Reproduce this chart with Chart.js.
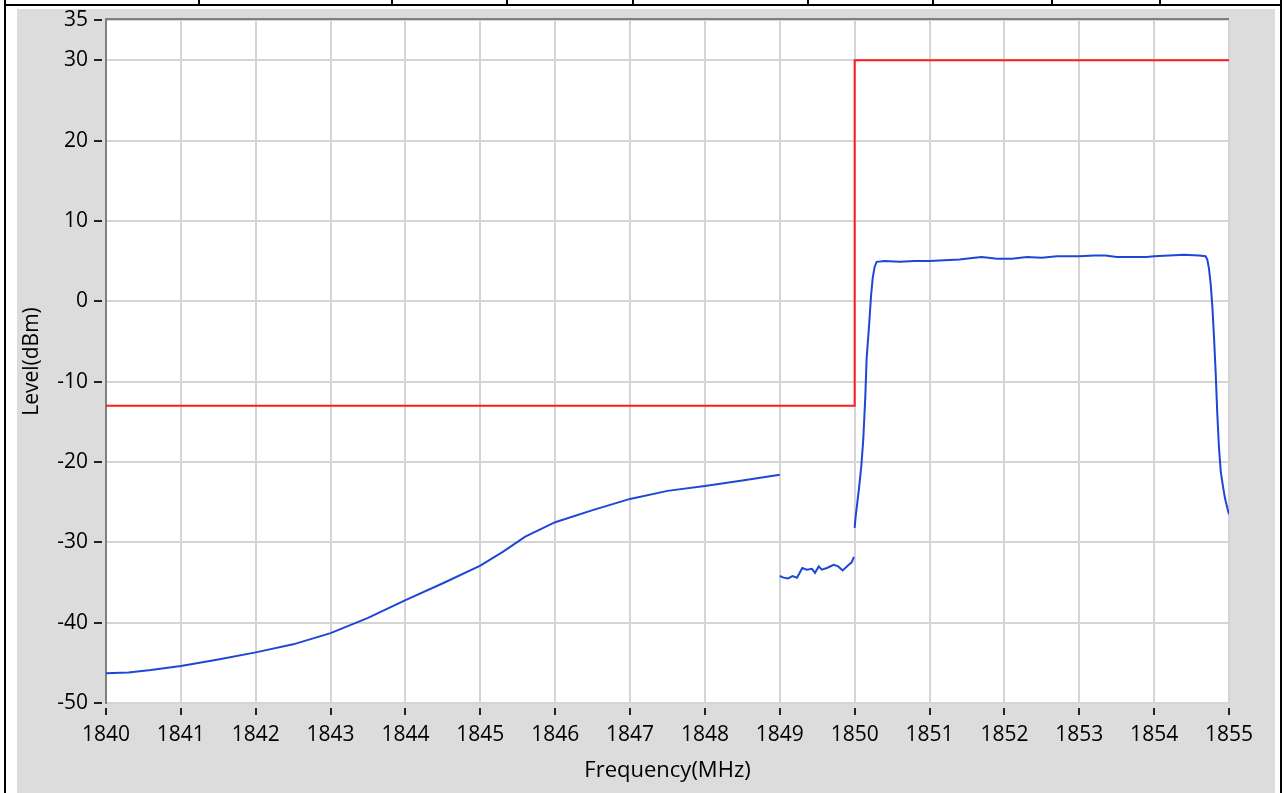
<!DOCTYPE html>
<html>
<head>
<meta charset="utf-8">
<script src="https://cdn.jsdelivr.net/npm/chart.js@4.4.1/dist/chart.umd.min.js"></script>
<style>
  body { margin: 0; background: #fff; width: 1288px; height: 793px; overflow: hidden; position: relative; }
  .bar { position: absolute; background: #000; }
  #panel { position: absolute; left: 17px; top: 9px; width: 1258px; height: 784px; background: #dcdcdc; }
  #spec { position: absolute; left: 0; top: 0; }
</style>
</head>
<body>
<div class="bar" style="left:4px;top:0;width:2px;height:793px"></div>
<div class="bar" style="left:1280px;top:0;width:2px;height:793px"></div>
<div class="bar" style="left:4px;top:4px;width:1278px;height:2px"></div>
<div class="bar" style="left:198px;top:0;width:2px;height:5px"></div>
<div class="bar" style="left:391px;top:0;width:2px;height:5px"></div>
<div class="bar" style="left:506px;top:0;width:2px;height:5px"></div>
<div class="bar" style="left:632px;top:0;width:2px;height:5px"></div>
<div class="bar" style="left:807px;top:0;width:2px;height:5px"></div>
<div class="bar" style="left:932px;top:0;width:2px;height:5px"></div>
<div class="bar" style="left:1051px;top:0;width:2px;height:5px"></div>
<div class="bar" style="left:1159px;top:0;width:2px;height:5px"></div>
<div id="panel"></div>
<canvas id="spec" width="1288" height="793"></canvas>
<script>
// limit mask (dBm)
var limitFreq = [1840, 1850, 1850, 1855];
var limitLevel = [-13, -13, 30, 30];

// measured trace, null = gap in the sweep
var traceFreq = [
  1840.0, 1840.3, 1840.6, 1841.0, 1841.5, 1842.0, 1842.5, 1843.0, 1843.5, 1844.0,
  1844.5, 1845.0, 1845.3, 1845.6, 1846.0, 1846.5, 1847.0, 1847.5, 1848.0, 1848.5, 1849.0,
  1849.0,
  1849.0, 1849.05, 1849.11, 1849.17, 1849.23, 1849.30, 1849.36, 1849.43, 1849.47, 1849.52,
  1849.56, 1849.63, 1849.72, 1849.78, 1849.84, 1849.91, 1849.96, 1849.99,
  1849.995,
  1850.0, 1850.013, 1850.035, 1850.061, 1850.088, 1850.115, 1850.142, 1850.16, 1850.195, 1850.218,
  1850.241, 1850.267, 1850.294, 1850.4, 1850.6, 1850.8, 1851.0, 1851.2, 1851.4, 1851.6,
  1851.7, 1851.9, 1852.1, 1852.3, 1852.5, 1852.7, 1853.0, 1853.2, 1853.35, 1853.5,
  1853.7, 1853.9, 1854.0, 1854.2, 1854.4, 1854.6, 1854.688, 1854.711, 1854.732, 1854.755,
  1854.778, 1854.799, 1854.823, 1854.844, 1854.866, 1854.89, 1854.919, 1854.946, 1854.979, 1855.0
];
var traceLevel = [
  -46.3, -46.2, -45.9, -45.4, -44.6, -43.7, -42.7, -41.3, -39.4, -37.2,
  -35.1, -32.9, -31.2, -29.3, -27.5, -26.0, -24.6, -23.6, -23.0, -22.3, -21.6,
  null,
  -34.2, -34.4, -34.5, -34.2, -34.4, -33.2, -33.4, -33.3, -33.8, -33.0,
  -33.4, -33.2, -32.8, -33.0, -33.5, -32.9, -32.5, -31.8,
  null,
  -28.2, -26.8, -25.1, -23.0, -20.6, -17.2, -11.9, -7.1, -2.7, 0.6,
  2.9, 4.3, 4.9, 5.0, 4.9, 5.0, 5.0, 5.1, 5.2, 5.4,
  5.5, 5.3, 5.3, 5.5, 5.4, 5.6, 5.6, 5.7, 5.7, 5.5,
  5.5, 5.5, 5.6, 5.7, 5.8, 5.7, 5.6, 5.15, 4.1, 2.2,
  -0.7, -4.3, -9.1, -14.1, -18.2, -21.2, -23.0, -24.5, -25.8, -26.5
];

var yTicks = [-50, -40, -30, -20, -10, 0, 10, 20, 30, 35];

function pts(xs, ys) {
  return xs.map(function(x, i) { return { x: x, y: ys[i] }; });
}

var fontFamily = "'Open Sans', sans-serif";

var frame = {
  id: 'frame',
  beforeDraw: function(chart) {
    var a = chart.chartArea, ctx = chart.ctx;
    ctx.save();
    ctx.fillStyle = '#ffffff';
    ctx.fillRect(a.left, a.top, a.right - a.left, a.bottom - a.top);
    ctx.restore();
  },
  afterDraw: function(chart) {
    var a = chart.chartArea, ctx = chart.ctx;
    ctx.save();
    ctx.strokeStyle = '#7f7f7f';
    ctx.lineWidth = 2;
    ctx.beginPath();
    ctx.moveTo(a.left - 1, a.top - 1);
    ctx.lineTo(a.right, a.top - 1);
    ctx.stroke();
    ctx.restore();
  }
};

new Chart(document.getElementById('spec'), {
  type: 'scatter',
  data: {
    datasets: [
      {
        data: pts(limitFreq, limitLevel),
        showLine: true,
        borderColor: '#ff1a1a',
        borderWidth: 2,
        pointRadius: 0,
        tension: 0
      },
      {
        data: pts(traceFreq, traceLevel),
        showLine: true,
        spanGaps: false,
        borderColor: '#1f47d6',
        borderWidth: 2,
        pointRadius: 0,
        tension: 0
      }
    ]
  },
  options: {
    responsive: false,
    animation: false,
    layout: { padding: { left: 0, top: 20, right: 59, bottom: 0 } },
    plugins: { legend: { display: false }, tooltip: { enabled: false } },
    scales: {
      x: {
        type: 'linear',
        min: 1840,
        max: 1855,
        afterFit: function(s) { s.height = 90; },
        ticks: {
          stepSize: 1, color: '#000', padding: 7,
          font: { family: fontFamily, size: 21 },
          callback: function(v) { return String(v); }
        },
        grid: {
          color: '#d4d4d4', lineWidth: 2, tickLength: 12,
          tickColor: '#222', tickWidth: 2, tickBorderDash: [7, 5], tickBorderDashOffset: 7
        },
        border: { display: false },
        title: {
          display: true, text: 'Frequency(MHz)', color: '#000',
          font: { family: fontFamily, size: 22 }, padding: { top: 0, bottom: 9 }
        }
      },
      y: {
        min: -50,
        max: 35,
        afterFit: function(s) { s.width = 106; },
        afterBuildTicks: function(s) { s.ticks = yTicks.map(function(v) { return { value: v }; }); },
        ticks: { color: '#000', padding: 6, font: { family: fontFamily, size: 21 } },
        grid: {
          color: '#d4d4d4', lineWidth: 2, tickLength: 12,
          tickColor: '#222', tickWidth: 2, tickBorderDash: [8, 20]
        },
        border: { display: true, color: '#7f7f7f', width: 2 },
        title: {
          display: true, text: 'Level(dBm)', color: '#000',
          font: { family: fontFamily, size: 21 }, padding: { top: 19, bottom: 0 }
        }
      }
    }
  },
  plugins: [frame]
});
</script>
</body>
</html>
